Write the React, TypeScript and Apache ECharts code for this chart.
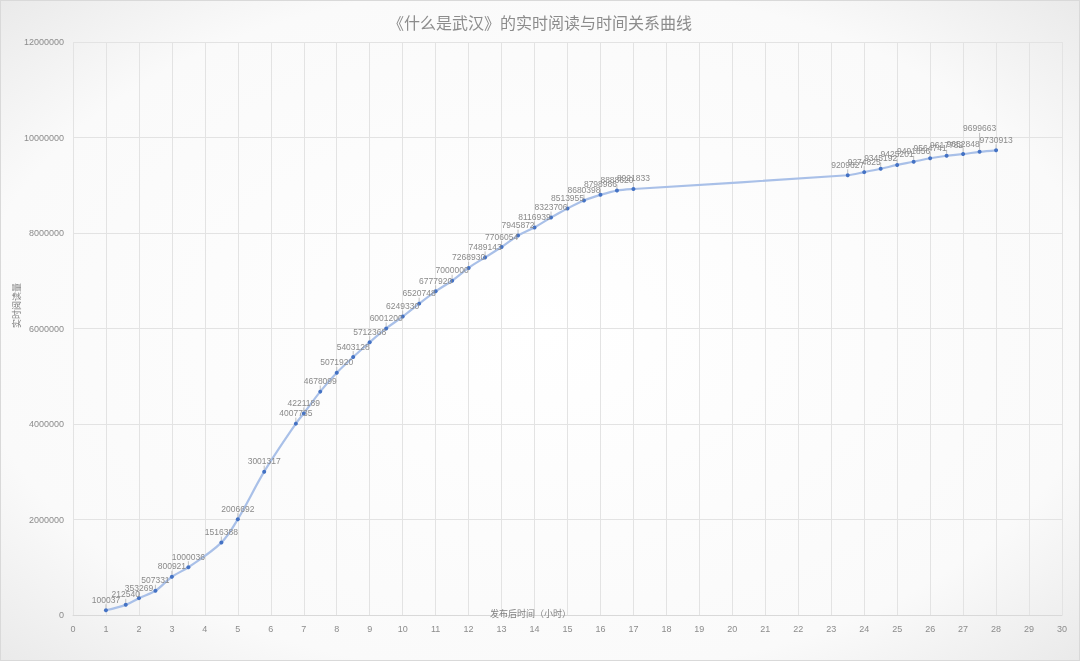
import React, { useEffect, useRef } from "react";
import * as echarts from "echarts";

const titleText = "《什么是武汉》的实时阅读与时间关系曲线";
const xAxisName = "发布后时间（小时）";
const yAxisName = "实时阅读量";

const hours = [
  1, 1.6, 2, 2.5, 3, 3.5, 4.5, 5, 5.8, 6.76, 7, 7.5, 8, 8.5, 9, 9.5, 10, 10.5,
  11, 11.5, 12, 12.5, 13, 13.5, 14, 14.5, 15, 15.5, 16, 16.5, 17, 23.5, 24,
  24.5, 25, 25.5, 26, 26.5, 27, 27.5, 28,
];
const reads = [
  100037, 212540, 353269, 507331, 800921, 1000036, 1516388, 2006692, 3001317,
  4007735, 4221189, 4678099, 5071920, 5403128, 5712368, 6001200, 6249330,
  6520748, 6777920, 7000000, 7268930, 7489143, 7706054, 7945872, 8116939,
  8323706, 8513955, 8680398, 8798986, 8888620, 8921833, 9209627, 9274825,
  9345192, 9425201, 9491856, 9564741, 9617782, 9652848, 9699663, 9730913,
];

export default function App() {
  const ref = useRef<HTMLDivElement>(null);
  useEffect(() => {
    if (!ref.current) return;
    const chart = echarts.init(ref.current, null, { renderer: "svg" });
    const data = hours.map((h, i) => [h, reads[i]]);
    const liftIndex = reads.indexOf(9699663);
    chart.setOption({
      animation: false,
      backgroundColor: new echarts.graphic.RadialGradient(0.5, 0.5, 0.75, [
        { offset: 0, color: "#ffffff" },
        { offset: 0.7, color: "#fafafa" },
        { offset: 1, color: "#e6e6e6" },
      ]),
      title: {
        text: titleText,
        left: "center",
        top: 8,
        textStyle: {
          fontSize: 16,
          fontWeight: "normal",
          color: "#8c8c8c",
          fontFamily: "Noto Sans CJK SC",
        },
      },
      grid: {
        left: 72,
        right: 17,
        top: 41,
        bottom: 45,
        containLabel: false,
        outerBoundsMode: "none",
      },
      xAxis: {
        type: "value",
        min: 0,
        max: 30,
        interval: 1,
        axisLine: { show: true, lineStyle: { color: "#d9d9d9" } },
        axisTick: { show: false },
        axisLabel: {
          color: "#8c8c8c",
          fontSize: 9,
          margin: 9,
          fontFamily: "Liberation Sans",
        },
        splitLine: { show: true, lineStyle: { color: "#e3e3e3" } },
      },
      yAxis: {
        type: "value",
        min: 0,
        max: 12000000,
        interval: 2000000,
        name: yAxisName,
        nameLocation: "middle",
        nameGap: 52,
        nameMoveOverlap: false,
        nameTextStyle: {
          color: "#7f7f7f",
          fontSize: 9,
          fontFamily: "Noto Sans CJK SC",
          padding: [0, 0, 0, 46],
        },
        axisLine: { show: false },
        axisTick: { show: false },
        axisLabel: {
          color: "#8c8c8c",
          fontSize: 9,
          margin: 9,
          fontFamily: "Liberation Sans",
          formatter: (v: number) => String(v),
        },
        splitLine: { show: true, lineStyle: { color: "#e3e3e3" } },
      },
      graphic: [
        {
          type: "text",
          left: 489,
          top: 608,
          style: {
            text: xAxisName,
            fill: "#7f7f7f",
            fontSize: 9,
            fontFamily: "Noto Sans CJK SC",
          },
          z: 10,
        },
      ],
      series: [
        {
          type: "line",
          data,
          smooth: 0.35,
          symbol: "circle",
          symbolSize: 4,
          itemStyle: { color: "#4472c4" },
          lineStyle: { color: "#a9c0e8", width: 2.2 },
          label: {
            show: true,
            position: "top",
            distance: 4,
            color: "#8a8a8a",
            fontSize: 8.5,
            fontFamily: "Liberation Sans",
          },
          labelLayout: (p: any) =>
            p.dataIndex === liftIndex ? { dy: -13 } : {},
          labelLine: { show: true, lineStyle: { color: "#bfbfbf", width: 1 } },
        },
      ],
    });
    return () => chart.dispose();
  }, []);
  return (
    <div
      ref={ref}
      style={{
        position: "fixed",
        left: 0,
        top: 0,
        width: 1080,
        height: 661,
        boxSizing: "border-box",
        border: "1px solid #d9d9d9",
      }}
    />
  );
}
